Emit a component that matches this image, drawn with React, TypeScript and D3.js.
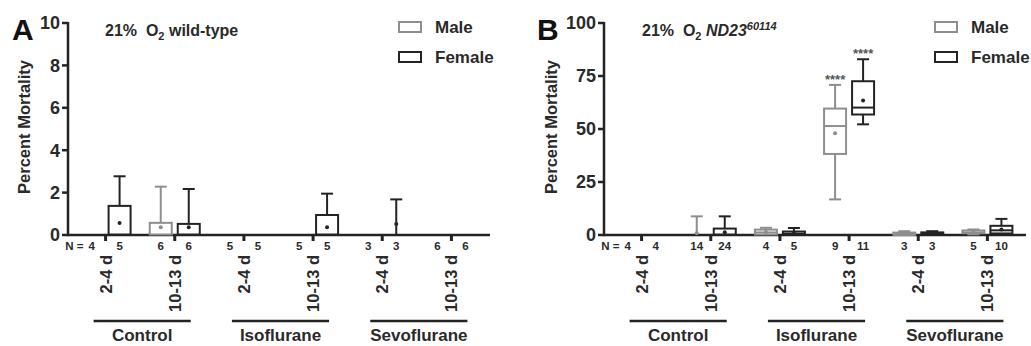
import React from "react";
import * as d3 from "d3";

const groups = ["Control", "Isoflurane", "Sevoflurane"];
const ages = ["2-4 d", "10-13 d"];
const categories = groups.flatMap((g) => ages.map((a) => `${g}|${a}`));

// Panel A (bars: value, error top, mean dot)
const aTicks = [0, 2, 4, 6, 8, 10];
const aMaleN = [4, 6, 5, 5, 3, 6];
const aFemaleN = [5, 6, 5, 5, 3, 6];
const aMaleBar = [0, 0.55, 0, 0, 0, 0];
const aMaleErr = [0, 2.28, 0, 0, 0, 0];
const aMaleMean = [0, 0.36, 0, 0, 0, 0];
const aFemaleBar = [1.35, 0.5, 0, 0.92, 0, 0];
const aFemaleErr = [2.77, 2.17, 0, 1.95, 1.68, 0];
const aFemaleMean = [0.57, 0.36, 0, 0.36, 0.52, 0];

// Panel B (box plots)
const bTicks = [0, 25, 50, 75, 100];
const bMaleN = [4, 14, 4, 9, 3, 5];
const bFemaleN = [4, 24, 5, 11, 3, 10];
const bMaleMin = [0, 0, 0, 16.8, 0, 0.3];
const bMaleQ1 = [0, 0, 0, 38, 0, 0.6];
const bMaleMed = [0, 0, 1.2, 51.4, 0, 1.2];
const bMaleQ3 = [0, 0, 2.3, 59.4, 0.9, 1.9];
const bMaleMax = [0, 8.8, 3.4, 70.8, 1.8, 2.6];
const bMaleMean = [0, 0.8, 1.4, 48, 0.6, 1.2];
const bFemaleMin = [0, 0, 0, 52.2, 0, 0];
const bFemaleQ1 = [0, 0, 0, 56.6, 0, 0.5];
const bFemaleMed = [0, 0, 0.6, 60.1, 0.5, 2.2];
const bFemaleQ3 = [0, 2.8, 1.4, 72.3, 1.0, 4.1];
const bFemaleMax = [0, 8.8, 3.3, 82.9, 1.8, 7.6];
const bFemaleMean = [0, 1.3, 0.8, 63.4, 0.6, 2.6];
const bMaleSig = ["", "", "", "****", "", ""];
const bFemaleSig = ["", "", "", "****", "", ""];

const GRAY = "#8e8e8e";
const DARK = "#232323";
const TEXT = "#2a2a2a";
const FONT = "'Liberation Sans', Arial, Helvetica, sans-serif";
const Y0 = 235;
const YTOP = 23;
const OFF = 14;
const BW = 22;
const CAP = 12;

type PanelProps = {
  ax: number;
  letter: string;
  letterX: number;
  titleX: number;
  yMax: number;
  ticks: number[];
  maleN: number[];
  femaleN: number[];
  titleB?: boolean;
  ytitleX: number;
  children: (x: d3.ScaleBand<string>, y: d3.ScaleLinear<number, number>) => React.ReactNode;
};

function Panel(p: PanelProps) {
  const x = d3.scaleBand<string>().domain(categories).range([p.ax + 3, p.ax + 418]);
  const y = d3.scaleLinear().domain([0, p.yMax]).range([Y0, YTOP]);
  const cx = (c: string) => (x(c) as number) + x.bandwidth() / 2;
  return (
    <g fontFamily={FONT} fontWeight="bold" fill={TEXT}>
      <text x={p.letterX} y={40} fontSize={30} fill="#111">{p.letter}</text>
      <text
        transform={`translate(${p.ytitleX},127) rotate(-90)`}
        textAnchor="middle"
        dy="0.35em"
        fontSize={16.5}
      >
        Percent Mortality
      </text>
      {/* title */}
      <text x={p.titleX} y={36} fontSize={16}>
        {"21%\u00a0\u00a0O"}
        <tspan fontSize={11} dy={4}>2</tspan>
        {p.titleB ? (
          <>
            <tspan dy={-4} fontStyle="italic">{"\u00a0ND23"}</tspan>
            <tspan fontSize={11} dy={-6} fontStyle="italic">60114</tspan>
          </>
        ) : (
          <tspan dy={-4}>{"\u00a0wild-type"}</tspan>
        )}
      </text>
      {/* legend */}
      <rect x={p.ax + 331} y={22} width={22} height={10} fill="white" stroke={GRAY} strokeWidth={2} />
      <text x={p.ax + 367} y={33} fontSize={17}>Male</text>
      <rect x={p.ax + 331} y={52} width={22} height={10} fill="white" stroke={DARK} strokeWidth={2} />
      <text x={p.ax + 367} y={63} fontSize={17}>Female</text>
      {/* y axis */}
      <line x1={p.ax} x2={p.ax} y1={YTOP - 1} y2={Y0 + 1.2} stroke={DARK} strokeWidth={2.5} />
      {p.ticks.map((t) => (
        <g key={t}>
          <line x1={p.ax - 6} x2={p.ax} y1={y(t)} y2={y(t)} stroke={DARK} strokeWidth={2.5} />
          <text x={p.ax - 8} y={y(t)} dy="0.36em" textAnchor="end" fontSize={18}>{t}</text>
        </g>
      ))}
      {/* x axis */}
      <line x1={p.ax} x2={p.ax + 422} y1={Y0} y2={Y0} stroke={DARK} strokeWidth={2.5} />
      {categories.map((c) => (
        <line key={c} x1={cx(c)} x2={cx(c)} y1={Y0} y2={Y0 + 6} stroke={DARK} strokeWidth={3} />
      ))}
      {p.children(x, y)}
      {/* N labels */}
      <text x={cx(categories[0]) - OFF - 8} y={250} textAnchor="end" fontSize={11.5}>N =</text>
      {categories.map((c, i) => (
        <g key={c} fontSize={11.5}>
          <text x={cx(c) - OFF} y={250} textAnchor="middle">{p.maleN[i]}</text>
          <text x={cx(c) + OFF} y={250} textAnchor="middle">{p.femaleN[i]}</text>
        </g>
      ))}
      {/* category labels */}
      {categories.map((c) => (
        <text
          key={c}
          transform={`translate(${cx(c)},255) rotate(-90)`}
          textAnchor="end"
          dy="0.36em"
          fontSize={16.5}
        >
          {c.split("|")[1]}
        </text>
      ))}
      {/* group lines */}
      {groups.map((g) => {
        const x1 = cx(`${g}|${ages[0]}`) - 12;
        const x2 = cx(`${g}|${ages[1]}`) + 16;
        return (
          <g key={g}>
            <line x1={x1} x2={x2} y1={321} y2={321} stroke={DARK} strokeWidth={2.5} />
            <text x={(x1 + x2) / 2} y={341} textAnchor="middle" fontSize={17}>{g}</text>
          </g>
        );
      })}
    </g>
  );
}

function Bars(
  x: d3.ScaleBand<string>,
  y: d3.ScaleLinear<number, number>,
  bar: number[],
  err: number[],
  mean: number[],
  off: number,
  color: string
) {
  return categories.map((c, i) => {
    const cxv = (x(c) as number) + x.bandwidth() / 2 + off;
    return (
      <g key={c} stroke={color} strokeWidth={2} fill="none">
        {err[i] > bar[i] && (
          <>
            <line x1={cxv} x2={cxv} y1={y(bar[i])} y2={y(err[i])} />
            <line x1={cxv - CAP / 2} x2={cxv + CAP / 2} y1={y(err[i])} y2={y(err[i])} />
          </>
        )}
        <rect
          x={cxv - BW / 2}
          y={y(bar[i]) - 0.5}
          width={BW}
          height={Math.max(0, y(0) - y(bar[i]))}
          fill={bar[i] > 0 ? "white" : "none"}
        />
        {mean[i] > 0 && <circle cx={cxv} cy={y(mean[i])} r={2} fill={color} stroke="none" />}
      </g>
    );
  });
}

function Boxes(
  x: d3.ScaleBand<string>,
  y: d3.ScaleLinear<number, number>,
  mn: number[],
  q1: number[],
  med: number[],
  q3: number[],
  mx: number[],
  mean: number[],
  sig: string[],
  off: number,
  color: string
) {
  return categories.map((c, i) => {
    const cxv = (x(c) as number) + x.bandwidth() / 2 + off;
    return (
      <g key={c} stroke={color} strokeWidth={2} fill="none">
        <line x1={cxv} x2={cxv} y1={y(q3[i])} y2={y(mx[i])} />
        <line x1={cxv} x2={cxv} y1={y(q1[i])} y2={y(mn[i])} />
        {mx[i] > q3[i] && <line x1={cxv - CAP / 2} x2={cxv + CAP / 2} y1={y(mx[i])} y2={y(mx[i])} />}
        {q1[i] > mn[i] && <line x1={cxv - CAP / 2} x2={cxv + CAP / 2} y1={y(mn[i])} y2={y(mn[i])} />}
        <rect x={cxv - BW / 2} y={y(q3[i]) - 0.5} width={BW} height={Math.max(0, y(q1[i]) - y(q3[i]))} fill={q3[i] > 0 ? "white" : "none"} />
        {q3[i] > 0 && <line x1={cxv - BW / 2} x2={cxv + BW / 2} y1={y(med[i])} y2={y(med[i])} />}
        {mean[i] > 0 && <circle cx={cxv} cy={y(mean[i])} r={2} fill={color} stroke="none" />}
        {sig[i] && (
          <text x={cxv} y={y(mx[i]) - 1} textAnchor="middle" fontSize={13} fill="#555" stroke="none" fontFamily={FONT}>
            {sig[i]}
          </text>
        )}
      </g>
    );
  });
}

export default function App() {
  return (
    <>
      <style>{`body{margin:0}`}</style>
      <svg width={1031} height={346} style={{ display: "block", background: "white" }}>
        <Panel
          ax={68}
          letter="A"
          letterX={12}
          titleX={105}
          yMax={10}
          ticks={aTicks}
          maleN={aMaleN}
          femaleN={aFemaleN}
          ytitleX={24}
        >
          {(x, y) => (
            <>
              {Bars(x, y, aMaleBar, aMaleErr, aMaleMean, -OFF, GRAY)}
              {Bars(x, y, aFemaleBar, aFemaleErr, aFemaleMean, OFF, DARK)}
            </>
          )}
        </Panel>
        <Panel
          ax={604}
          letter="B"
          letterX={537}
          titleX={642}
          yMax={100}
          ticks={bTicks}
          maleN={bMaleN}
          femaleN={bFemaleN}
          titleB
          ytitleX={551}
        >
          {(x, y) => (
            <>
              {Boxes(x, y, bMaleMin, bMaleQ1, bMaleMed, bMaleQ3, bMaleMax, bMaleMean, bMaleSig, -OFF, GRAY)}
              {Boxes(x, y, bFemaleMin, bFemaleQ1, bFemaleMed, bFemaleQ3, bFemaleMax, bFemaleMean, bFemaleSig, OFF, DARK)}
            </>
          )}
        </Panel>
      </svg>
    </>
  );
}
